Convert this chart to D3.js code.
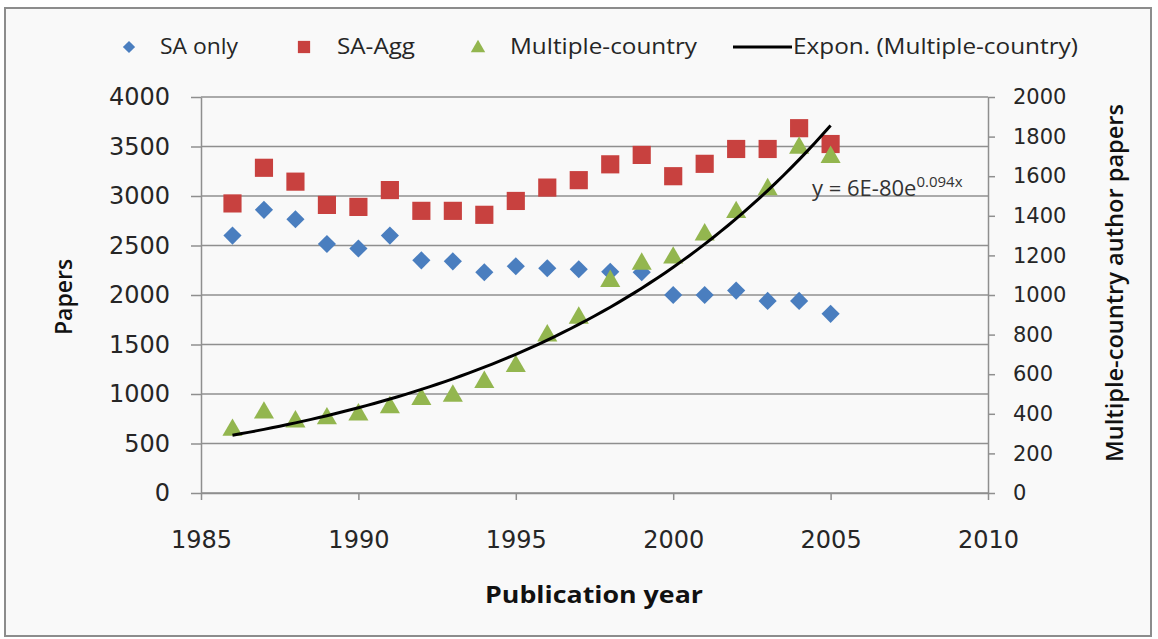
<!DOCTYPE html>
<html>
<head>
<meta charset="utf-8">
<script src="https://cdnjs.cloudflare.com/ajax/libs/d3/7.8.5/d3.min.js"></script>
<style>
  body { margin: 0; background: #ffffff; }
  svg { display: block; }
</style>
</head>
<body>
<div id="viz"></div>
<script>
var years = [1986, 1987, 1988, 1989, 1990, 1991, 1992, 1993, 1994, 1995,
             1996, 1997, 1998, 1999, 2000, 2001, 2002, 2003, 2004, 2005];
var saOnly = [2600, 2860, 2765, 2515, 2470, 2600, 2350, 2340, 2230, 2290,
              2270, 2260, 2235, 2230, 2000, 2000, 2045, 1940, 1940, 1810];
var saAgg = [2925, 3285, 3145, 2910, 2890, 3060, 2850, 2850, 2810, 2950,
             3085, 3160, 3320, 3415, 3200, 3325, 3475, 3475, 3685, 3525];
var multiCountry = [318, 405, 360, 376, 396, 432, 474, 490, 560, 640,
                    795, 884, 1070, 1157, 1188, 1305, 1418, 1533, 1743, 1696];
var xTicks = [1985, 1990, 1995, 2000, 2005, 2010];
var leftTicks = [0, 500, 1000, 1500, 2000, 2500, 3000, 3500, 4000];
var rightTicks = [0, 200, 400, 600, 800, 1000, 1200, 1400, 1600, 1800, 2000];

var width = 1158, height = 639;
var plot = { left: 201, right: 988, top: 97, bottom: 493 };

var blue = "#4a7ebf", red = "#c8413f", green = "#93b64f";
var gridColor = "#8f8f8f";

var svg = d3.select("#viz").append("svg")
  .attr("width", width)
  .attr("height", height);

// frame
svg.append("rect")
  .attr("x", 5).attr("y", 8)
  .attr("width", 1146).attr("height", 628)
  .attr("fill", "#f9f9f9")
  .attr("stroke", "#8c8c8c")
  .attr("stroke-width", 2);

var x = d3.scaleLinear().domain([1985, 2010]).range([plot.left, plot.right]);
var yL = d3.scaleLinear().domain([0, 4000]).range([plot.bottom, plot.top]);
var yR = d3.scaleLinear().domain([0, 2000]).range([plot.bottom, plot.top]);

// gridlines
svg.append("g")
  .selectAll("line")
  .data(leftTicks)
  .enter()
  .append("line")
  .attr("x1", plot.left).attr("x2", plot.right)
  .attr("y1", (d) => yL(d)).attr("y2", (d) => yL(d))
  .attr("stroke", gridColor)
  .attr("stroke-width", 1.5);

var tickFont = "'DejaVu Sans', sans-serif";
var fmt = d3.format("d");

var leftAxis = svg.append("g")
  .attr("transform", "translate(" + plot.left + ",0)")
  .call(d3.axisLeft(yL).tickValues(leftTicks).tickFormat(fmt).tickSize(10).tickPadding(21).tickSizeOuter(0));
var rightAxis = svg.append("g")
  .attr("transform", "translate(" + plot.right + ",0)")
  .call(d3.axisRight(yR).tickValues(rightTicks).tickFormat(fmt).tickSize(7).tickPadding(18).tickSizeOuter(0));
var bottomAxis = svg.append("g")
  .attr("transform", "translate(0," + plot.bottom + ")")
  .call(d3.axisBottom(x).tickValues(xTicks).tickFormat(fmt).tickSize(7).tickPadding(31).tickSizeOuter(0));

[leftAxis, rightAxis, bottomAxis].forEach(function (g) {
  g.select(".domain").attr("stroke", gridColor).attr("stroke-width", 1.5);
  g.selectAll(".tick line").attr("stroke", gridColor).attr("stroke-width", 1.5);
  g.selectAll(".tick text")
    .style("font-family", tickFont)
    .style("font-size", "24px")
    .attr("fill", "#262626");
});
rightAxis.selectAll(".tick text").style("font-size", "21px");

// axis titles
svg.append("text")
  .attr("transform", "translate(72,297) rotate(-90)")
  .style("text-anchor", "middle")
  .style("font-family", "'Open Sans', sans-serif")
  .style("font-size", "23px")
  .style("font-weight", "600")
  .attr("fill", "#111")
  .text("Papers");

svg.append("text")
  .attr("transform", "translate(1123,283) rotate(-90)")
  .style("text-anchor", "middle")
  .style("font-family", "'Open Sans', sans-serif")
  .style("font-size", "23px")
  .style("font-weight", "600")
  .attr("fill", "#111")
  .attr("textLength", 358)
  .attr("lengthAdjust", "spacingAndGlyphs")
  .text("Multiple-country author papers");

svg.append("text")
  .attr("x", 594).attr("y", 603)
  .style("text-anchor", "middle")
  .style("font-family", "'Open Sans', sans-serif")
  .style("font-size", "23px")
  .style("font-weight", "700")
  .attr("fill", "#111")
  .attr("textLength", 218)
  .attr("lengthAdjust", "spacingAndGlyphs")
  .text("Publication year");

// exponential trend fitted to the multiple-country series (least squares on ln y)
var meanX = d3.mean(years);
var logs = multiCountry.map((d) => Math.log(d));
var meanL = d3.mean(logs);
var sxy = d3.sum(years, (d, i) => (d - meanX) * (logs[i] - meanL));
var sxx = d3.sum(years, (d) => (d - meanX) * (d - meanX));
var slope = sxy / sxx;
var intercept = meanL - slope * meanX;
var trendYears = d3.range(years[0], years[years.length - 1] + 0.001, 0.25);

// markers
var diamond = d3.symbol().type(d3.symbolSquare).size(165);
var square = d3.symbol().type(d3.symbolSquare).size(330);
var triangle = d3.symbol().type(d3.symbolTriangle).size(175);

svg.append("g")
  .selectAll("path")
  .data(years)
  .enter()
  .append("path")
  .attr("d", diamond)
  .attr("transform", (d, i) => "translate(" + x(d) + "," + yL(saOnly[i]) + ") rotate(45)")
  .attr("fill", blue);

svg.append("g")
  .selectAll("path")
  .data(years)
  .enter()
  .append("path")
  .attr("d", square)
  .attr("transform", (d, i) => "translate(" + x(d) + "," + yL(saAgg[i]) + ")")
  .attr("fill", red);

svg.append("g")
  .selectAll("path")
  .data(years)
  .enter()
  .append("path")
  .attr("d", triangle)
  .attr("transform", (d, i) => "translate(" + x(d) + "," + yR(multiCountry[i]) + ")")
  .attr("fill", green);

svg.append("path")
  .datum(trendYears)
  .attr("fill", "none")
  .attr("stroke", "#000")
  .attr("stroke-width", 3)
  .attr("d", d3.line()
    .x((d) => x(d))
    .y((d) => yR(Math.exp(intercept + slope * d))));

// equation label
var eq = svg.append("text")
  .attr("x", 812).attr("y", 196)
  .style("font-family", "'Open Sans', sans-serif")
  .style("font-size", "22px")
  .attr("fill", "#333");
eq.append("tspan").text("y = 6E-80e");
eq.append("tspan").attr("dy", -9).style("font-size", "15px").text("0.094x");

// legend
var ly = 47;
var legend = svg.append("g");
legend.append("path")
  .attr("d", d3.symbol().type(d3.symbolSquare).size(75))
  .attr("transform", "translate(129," + ly + ") rotate(45)")
  .attr("fill", blue);
legend.append("path")
  .attr("d", d3.symbol().type(d3.symbolSquare).size(150))
  .attr("transform", "translate(304," + ly + ")")
  .attr("fill", red);
legend.append("path")
  .attr("d", d3.symbol().type(d3.symbolTriangle).size(90))
  .attr("transform", "translate(478," + (ly + 1) + ")")
  .attr("fill", green);
legend.append("line")
  .attr("x1", 733).attr("x2", 792)
  .attr("y1", ly).attr("y2", ly)
  .attr("stroke", "#000")
  .attr("stroke-width", 3);

var legendLabels = [
  { text: "SA only", x: 160, w: 78 },
  { text: "SA-Agg", x: 337, w: 78 },
  { text: "Multiple-country", x: 510, w: 187 },
  { text: "Expon. (Multiple-country)", x: 793, w: 285 }
];
legend.selectAll("text")
  .data(legendLabels)
  .enter()
  .append("text")
  .attr("x", (d) => d.x)
  .attr("y", 54)
  .attr("textLength", (d) => d.w)
  .attr("lengthAdjust", "spacingAndGlyphs")
  .style("font-family", "'Open Sans', sans-serif")
  .style("font-size", "21px")
  .attr("fill", "#262626")
  .text((d) => d.text);
</script>
</body>
</html>
